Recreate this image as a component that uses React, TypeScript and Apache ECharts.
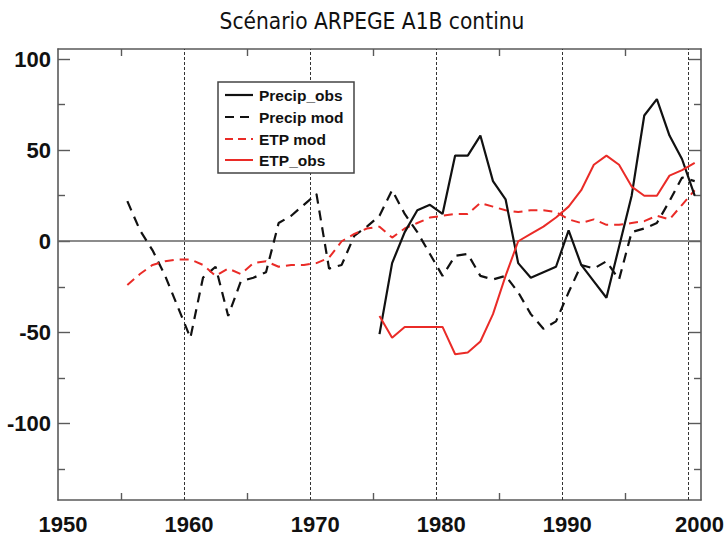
import React, { useEffect, useRef } from "react";
import * as echarts from "echarts";

const years = [
  1955, 1956, 1957, 1958, 1959, 1960, 1961, 1962, 1963, 1964,
  1965, 1966, 1967, 1968, 1969, 1970, 1971, 1972, 1973, 1974,
  1975, 1976, 1977, 1978, 1979, 1980, 1981, 1982, 1983, 1984,
  1985, 1986, 1987, 1988, 1989, 1990, 1991, 1992, 1993, 1994,
  1995, 1996, 1997, 1998, 1999, 2000,
];

const precipObs = [
  null, null, null, null, null, null, null, null, null, null,
  null, null, null, null, null, null, null, null, null, null,
  -51, -12, 5, 17, 20, 15, 47, 47, 58, 33,
  23, -12, -20, -17, -14, 6, -13, -22, -31, -3,
  25, 69, 78, 58, 45, 25,
];

const precipMod = [
  22, 6, -5, -19, -36, -53, -20, -14, -41, -22,
  -20, -17, 10, 14, 20, 26, -15, -13, 3, 8,
  14, 28, 15, 5, -7, -19, -8, -7, -19, -21,
  -19, -28, -40, -48, -44, -28, -13, -15, -11, -21,
  5, 7, 10, 22, 35, 33,
];

const etpMod = [
  -24, -18, -13, -11, -10, -10, -13, -19, -15, -18,
  -12, -11, -14, -13, -13, -12, -9, 0, 4, 7,
  8, 2, 7, 10, 13, 14, 15, 15, 21, 19,
  17, 16, 17, 17, 16, 12, 10, 12, 9, 9,
  10, 11, 14, 12, 20, 28,
];

const etpObs = [
  null, null, null, null, null, null, null, null, null, null,
  null, null, null, null, null, null, null, null, null, null,
  -41, -53, -47, -47, -47, -47, -62, -61, -55, -40,
  -19, 0, 4, 8, 13, 19, 28, 42, 47, 42,
  30, 25, 25, 36, 39, 43,
];

const xLabels = [1950, 1960, 1970, 1980, 1990, 2000];
const xMinorTicks = [1955, 1965, 1975, 1985, 1995];
const decadeLines = [1960, 1970, 1980, 1990, 2000];
const yLabels = [-100, -50, 0, 50, 100];
const yMinorTicks = [-125, -75, -25, 25, 75];

const legendNames = ["Precip_obs", "Precip mod", "ETP mod", "ETP_obs"];

const FONT = '"Liberation Sans", Arial, sans-serif';
const FRAME = "#5a5a5a";
const BLACK = "#111111";
const RED = "#ea2b27";

function toPoints(vals: (number | null)[]) {
  const pts: number[][] = [];
  vals.forEach((v, i) => {
    if (v !== null) pts.push([years[i] + 0.5, v]);
  });
  return pts;
}

export default function App() {
  const ref = useRef<HTMLDivElement>(null);

  useEffect(() => {
    if (!ref.current) return;
    const chart = echarts.init(ref.current, null, { renderer: "svg" });

    const yMin = -142;
    const yMax = 105.5;

    const baseY = (position: string, major: boolean) => ({
      type: "value",
      min: yMin,
      max: yMax,
      position,
      axisLine: { show: major, onZero: false, lineStyle: { color: FRAME, width: 1.6 } },
      axisTick: {
        show: true,
        inside: true,
        length: major ? 12 : 7,
        customValues: major ? yLabels : yMinorTicks,
        lineStyle: { color: FRAME, width: 1.4 },
      },
      axisLabel: major && position === "left"
        ? {
            show: true,
            customValues: yLabels,
            margin: 7,
            color: "#111",
            fontFamily: FONT,
            fontWeight: "bold",
            fontSize: 22,
          }
        : { show: false },
      splitLine: { show: false },
    });

    const baseX = (position: string) => ({
      type: "value",
      min: 1950,
      max: 2001,
      position,
      axisLine: { show: true, onZero: false, lineStyle: { color: FRAME, width: 1.6 } },
      axisTick: {
        show: true,
        inside: true,
        length: 7,
        customValues: xMinorTicks,
        lineStyle: { color: FRAME, width: 1.4 },
      },
      axisLabel: position === "bottom"
        ? {
            show: true,
            customValues: xLabels,
            margin: 13,
            color: "#111",
            fontFamily: FONT,
            fontWeight: "bold",
            fontSize: 22,
            formatter: (v: number) => (v === 2000 ? "{e|" + v + "}" : "{n|" + v + "}"),
            rich: {
              n: { padding: [0, 0, 0, 10], fontFamily: FONT, fontWeight: "bold", fontSize: 22, color: "#111" },
              e: { padding: [0, 0, 0, 22], fontFamily: FONT, fontWeight: "bold", fontSize: 22, color: "#111" },
            },
          }
        : { show: false },
      splitLine: { show: false },
    });

    const rows = [95, 117, 139, 160];
    const legendStyles = [
      { stroke: BLACK, lineDash: null as any, lineWidth: 2.2 },
      { stroke: BLACK, lineDash: [9, 6], lineWidth: 2.2 },
      { stroke: RED, lineDash: [8, 5], lineWidth: 2 },
      { stroke: RED, lineDash: null as any, lineWidth: 2 },
    ];

    const legendGraphics: any[] = [
      {
        type: "rect",
        shape: { x: 218, y: 82, width: 136, height: 91 },
        style: { fill: "#fff", stroke: "#444", lineWidth: 1.5 },
        z: 10,
      },
    ];
    legendNames.forEach((name, i) => {
      const st = legendStyles[i];
      legendGraphics.push({
        type: "line",
        shape: { x1: 225, y1: rows[i], x2: 253, y2: rows[i] },
        style: { stroke: st.stroke, lineWidth: st.lineWidth, lineDash: st.lineDash || undefined },
        z: 11,
      });
      legendGraphics.push({
        type: "text",
        x: 259,
        y: rows[i],
        style: {
          text: name,
          fill: "#111",
          font: "bold 15.5px " + FONT,
          textVerticalAlign: "middle",
          verticalAlign: "middle",
        },
        z: 11,
      });
    });

    const option: any = {
      animation: false,
      backgroundColor: "#ffffff",
      grid: { left: 58, right: 26, top: 49, bottom: 39, containLabel: false },
      xAxis: [baseX("bottom"), baseX("top")],
      yAxis: [
        baseY("left", true),
        baseY("left", false),
        baseY("right", true),
        baseY("right", false),
      ],
      graphic: [
        {
          type: "text",
          x: 372,
          y: 21,
          style: {
            text: "Scénario ARPEGE A1B continu",
            fill: "#111",
            font: '500 22.5px "DejaVu Sans Condensed", "DejaVu Sans", sans-serif',
            textAlign: "center",
            align: "center",
            textVerticalAlign: "middle",
            verticalAlign: "middle",
          },
        },
        ...legendGraphics,
      ],
      series: [
        {
          name: "Precip mod",
          type: "line",
          data: toPoints(precipMod),
          showSymbol: false,
          symbol: "none",
          lineStyle: { color: BLACK, width: 2.2, type: [10, 7] },
          z: 3,
          markLine: {
            silent: true,
            symbol: "none",
            label: { show: false },
            z: 1,
            data: [
              ...decadeLines.map((d) => ({
                xAxis: d,
                lineStyle: { color: "#333", width: 1, type: [3, 2] },
              })),
              { yAxis: 0, lineStyle: { color: "#666", width: 1.6, type: "solid" } },
            ],
          },
        },
        {
          name: "ETP mod",
          type: "line",
          data: toPoints(etpMod),
          showSymbol: false,
          symbol: "none",
          lineStyle: { color: RED, width: 2, type: [9, 6] },
          z: 4,
        },
        {
          name: "Precip_obs",
          type: "line",
          data: toPoints(precipObs),
          showSymbol: false,
          symbol: "none",
          lineStyle: { color: BLACK, width: 2.2, type: "solid" },
          z: 5,
        },
        {
          name: "ETP_obs",
          type: "line",
          data: toPoints(etpObs),
          showSymbol: false,
          symbol: "none",
          lineStyle: { color: RED, width: 2, type: "solid" },
          z: 6,
        },
      ],
    };

    chart.setOption(option);
    return () => chart.dispose();
  }, []);

  return (
    <div
      ref={ref}
      style={{ position: "fixed", left: 0, top: 0, width: 727, height: 539, background: "#fff" }}
    />
  );
}
